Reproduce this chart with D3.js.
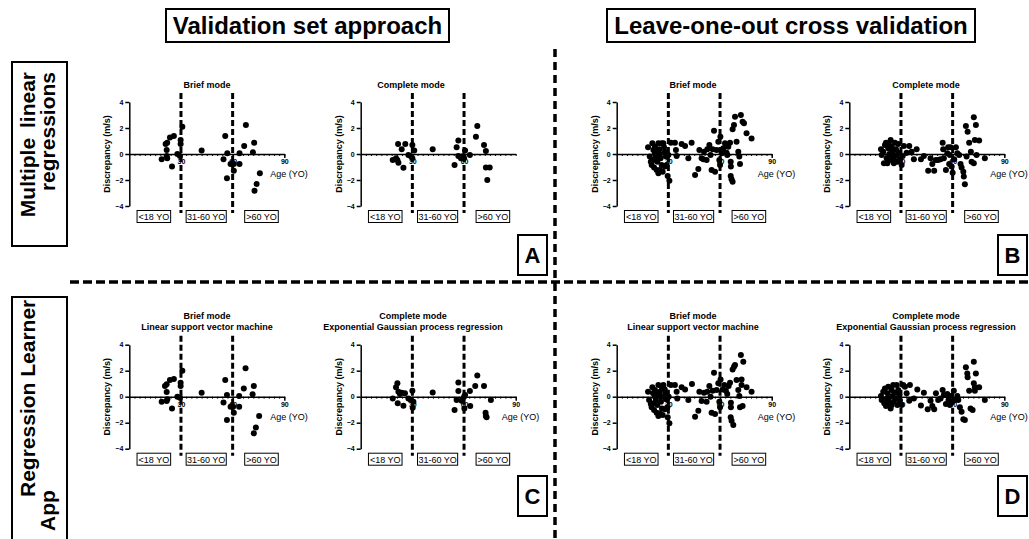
<!DOCTYPE html>
<html>
<head>
<meta charset="utf-8">
<script src="https://cdn.jsdelivr.net/npm/d3@7"></script>
<style>
  body { margin: 0; background: #fff; }
  svg { display: block; }
  text { font-family: "Liberation Sans", Arial, sans-serif; fill: #000; }
</style>
</head>
<body>
<div id="chart"></div>
<script>
// Values: [age (YO), discrepancy (m/s)]
const valMlrBrief = [[18.8,-0.41],[21.1,0.77],[22.0,0.87],[21.7,0.31],[22.0,-0.33],[21.7,-0.15],[23.6,1.26],[25.9,1.38],
  [24.8,-0.97],[27.9,0.0],[29.8,1.08],[29.8,0.77],[30.8,2.1],[29.4,-0.15],[42.0,0.26],[55.7,1.38],[54.7,-0.41],
  [56.9,0.05],[56.7,-1.87],[58.8,-0.77],[60.7,-0.77],[60.7,-1.28],[64.0,0.05],[64.0,-0.77],[66.7,0.62],[67.7,2.23],
  [71.8,0.13],[72.5,0.87],[73.9,-2.31],[72.7,-2.82],[75.8,-1.49]];
const valMlrComplete = [[18.6,-0.46],[20.5,-0.33],[21.3,-0.46],[21.9,-0.67],[21.7,0.77],[23.8,0.36],[24.8,-1.05],
  [25.9,0.77],[27.7,-0.08],[29.0,-0.15],[30.0,0.69],[30.0,-0.33],[31.1,0.26],[41.8,0.36],[54.5,-0.85],[55.7,0.51],
  [56.7,1.03],[56.7,-0.15],[58.2,-0.33],[59.6,-0.15],[60.6,0.26],[60.0,-0.33],[63.4,-0.08],[66.9,1.33],[67.7,2.15],
  [71.6,0.69],[72.7,0.23],[72.7,-1.03],[73.5,-2.0],[74.9,-1.03]];
const looMlrBrief = [[18.2,0.51],[19.2,-0.2],[20.7,0.82],[21.3,0.31],[22.2,0.05],[20.3,-0.85],[21.7,-1.03],[23.2,-1.23],
  [24.2,-1.49],[23.6,-0.59],[22.8,-0.2],[24.2,0.82],[24.8,0.36],[25.1,0.0],[25.5,-0.33],[26.1,-0.85],[26.7,-1.36],
  [22.2,0.56],[21.3,-0.46],[27.1,0.82],[27.5,0.51],[28.0,0.18],[28.6,-0.2],[28.0,-0.97],[29.0,-0.85],[30.0,-0.08],
  [29.6,-1.69],[30.6,-2.05],[25.1,-1.23],[19.8,-0.59],[26.1,0.82],[23.6,0.26],
  [31.5,0.87],[33.8,0.87],[34.4,0.31],[34.8,-0.15],[37.7,0.77],[39.7,0.62],[41.6,-0.33],[43.5,0.87],[45.5,-1.62],
  [47.4,-1.15],[48.0,0.31],[49.3,-0.33],[50.7,0.18],[52.2,-0.46],[53.8,0.69],[54.5,-0.08],[55.1,-1.23],[56.5,1.79],
  [57.1,-1.36],[55.7,0.36],[58.0,0.31],[59.0,0.95],[59.6,-0.46],[60.0,-0.85],[60.2,1.33],[52.6,0.36],[50.3,-0.41],
  [61.0,0.05],[61.9,0.44],[62.9,0.82],[63.8,0.1],[64.8,0.56],[65.8,0.87],[66.2,-0.59],[66.3,-0.97],[66.2,-1.69],
  [66.7,-1.95],[67.3,-2.13],[67.3,1.9],[68.1,2.23],[68.7,2.87],[69.6,0.95],[70.6,0.18],[71.6,-0.77],[72.1,3.0],
  [73.1,2.49],[73.9,2.36],[75.4,1.59],[78.3,1.2],[71.2,-0.2],[64.2,-0.08]];
const looMlrComplete = [[18.4,0.36],[18.8,-0.08],[19.7,0.18],[20.7,0.69],[21.3,0.87],[21.7,-0.33],[22.1,-0.72],
  [22.6,0.44],[23.2,0.0],[23.6,-0.46],[24.0,1.08],[24.6,0.56],[25.1,0.18],[25.5,-0.2],[25.9,-0.72],[26.5,0.87],
  [27.1,0.36],[27.5,-0.08],[27.9,-0.59],[28.4,0.77],[29.0,0.1],[29.4,-0.41],[30.4,-0.85],[31.0,-0.15],[31.7,0.62],
  [20.1,-0.72],[22.9,0.82],[24.6,-0.08],[26.1,-0.46],
  [33.3,0.1],[34.8,0.62],[36.2,0.18],[37.5,-0.41],[39.1,0.36],[41.6,-0.41],[43.3,-0.15],[45.8,-1.28],[47.2,-0.33],
  [48.2,-0.77],[49.3,-1.28],[50.3,-0.46],[51.6,-0.46],[53.0,-0.41],[54.2,0.87],[54.5,0.36],[54.9,-0.33],[56.1,-1.23],
  [56.9,0.05],[57.4,0.51],[58.0,-0.77],[58.4,-0.08],[58.8,0.51],[59.4,-0.97],[60.0,-1.44],[60.9,-0.41],[61.9,0.51],
  [62.7,0.05],[63.8,-0.08],[64.6,-0.77],[65.2,-1.03],[66.2,-1.36],[66.5,-1.74],[67.1,-2.33],[67.7,2.15],[68.7,1.72],
  [69.6,0.87],[70.6,0.18],[71.0,-0.59],[72.3,2.82],[72.3,-0.72],[72.9,1.08],[73.5,2.23],[73.9,-0.08],[75.4,1.03],
  [78.7,-0.33],[68.1,-0.2]];
const valAppBrief = [[18.8,-0.38],[20.7,0.82],[21.7,0.95],[21.7,0.36],[22.1,-0.2],[21.7,-0.33],[23.6,1.28],[25.9,1.36],
  [24.8,-0.9],[27.9,0.0],[29.8,1.08],[29.8,0.82],[30.8,2.0],[29.4,-0.08],[42.0,0.31],[55.7,1.28],[54.7,-0.44],
  [56.7,0.13],[56.7,-1.79],[58.8,-0.77],[60.3,-0.77],[60.7,-1.23],[63.8,0.05],[63.8,-0.77],[66.5,0.64],[67.5,2.18],
  [71.6,0.18],[72.3,0.82],[73.5,-2.36],[72.3,-2.82],[75.4,-1.49]];
const valAppComplete = [[18.6,-0.13],[20.5,0.72],[21.3,1.03],[21.9,0.38],[21.5,-0.51],[22.8,0.2],[23.8,0.31],
  [24.8,-0.69],[25.7,0.26],[27.7,-0.13],[29.0,-0.26],[30.0,0.46],[30.6,-0.38],[30.2,-0.85],[41.8,0.33],[54.5,-1.03],
  [55.7,-0.26],[56.7,1.1],[56.7,0.44],[58.6,-0.31],[60.0,0.0],[60.6,0.13],[60.2,-0.9],[63.4,0.44],[63.6,-0.72],
  [66.5,0.82],[67.7,1.64],[71.6,0.82],[72.5,-1.23],[73.1,-1.59],[72.7,-1.49],[75.6,-0.26]];
const looAppBrief = [[18.2,0.38],[18.8,-0.26],[20.7,0.72],[21.1,0.26],[22.2,0.0],[20.3,-0.82],[21.7,-1.03],[23.2,-1.23],
  [24.2,-1.49],[23.6,-0.64],[22.8,-0.26],[24.2,0.9],[25.1,0.38],[25.5,0.0],[25.7,-0.38],[26.3,-0.9],[26.7,-1.41],
  [22.2,0.51],[21.3,-0.51],[27.1,0.9],[27.9,0.56],[28.2,0.2],[28.6,-0.2],[28.0,-0.97],[29.4,-0.82],[30.2,0.0],
  [29.6,-1.59],[30.6,-2.05],[25.1,-1.28],[19.8,-0.56],[26.1,0.77],[23.6,0.2],
  [31.5,0.9],[33.8,0.9],[34.8,0.38],[35.2,-0.13],[37.7,0.72],[39.7,0.56],[41.6,-0.26],[43.7,0.97],[45.5,-1.54],
  [47.4,-1.08],[48.0,0.38],[49.3,-0.33],[50.7,0.31],[52.2,-0.38],[53.8,0.82],[54.5,0.0],[55.1,-1.23],[56.5,1.85],
  [57.1,-1.33],[55.7,0.46],[58.0,0.51],[59.0,1.03],[59.6,-0.38],[60.0,-0.82],[60.3,1.33],[52.6,0.38],
  [61.5,0.56],[62.5,0.9],[63.4,0.46],[64.2,0.2],[65.0,0.82],[65.8,1.08],[66.3,-0.46],[66.3,-0.82],[66.2,-1.59],
  [66.7,-1.85],[67.7,-2.18],[67.3,2.1],[68.1,2.31],[68.7,2.44],[69.6,1.28],[70.6,0.51],[71.6,-0.82],[72.1,3.21],
  [73.5,2.69],[72.5,1.33],[72.5,0.9],[73.1,-0.72],[75.4,0.72],[78.3,0.38],[71.2,0.05]];
const looAppComplete = [[18.4,0.05],[18.8,-0.26],[19.7,0.38],[20.7,0.64],[21.3,-0.72],[21.7,-0.13],[22.2,0.26],
  [22.6,0.77],[23.2,-0.46],[24.0,-0.9],[24.6,0.51],[25.1,0.05],[25.5,0.9],[25.9,-0.38],[26.5,0.31],[27.1,-0.13],
  [27.5,0.9],[27.9,-0.64],[28.4,0.51],[29.0,0.13],[29.4,-0.31],[30.4,-0.64],[31.3,0.9],[32.3,0.77],[20.3,-0.51],
  [22.9,-0.13],[24.6,-0.64],
  [33.3,0.26],[34.8,-0.31],[35.2,0.9],[37.5,-0.13],[39.5,0.56],[41.6,-0.67],[43.3,0.31],[45.5,-0.97],[47.2,-0.31],
  [48.2,-0.72],[49.3,-0.97],[50.3,0.26],[51.6,-0.26],[53.0,-0.13],[54.2,0.51],[54.9,0.13],[56.1,-0.56],[56.9,0.2],
  [57.6,-0.26],[58.4,-0.64],[59.0,0.05],[59.8,-0.38],[60.7,0.46],[61.5,-0.26],
  [62.7,0.05],[63.3,-0.26],[64.2,-0.82],[65.2,-1.15],[66.2,-1.74],[67.1,-1.79],[67.7,2.26],[68.5,1.79],[68.7,1.49],
  [69.6,0.46],[70.4,-0.9],[71.6,-1.03],[72.3,2.69],[72.3,1.03],[72.9,0.72],[72.9,0.46],[73.5,1.79],[75.4,0.72],
  [78.7,-0.26]];

const yTicks = [-4, -2, 0, 2, 4];
const xMajorTicks = [30, 60, 90];
const ageGroups = [
  {label: "<18 YO", from: 4.5, to: 24},
  {label: "31-60 YO", from: 33, to: 56.3},
  {label: ">60 YO", from: 67, to: 86.5}
];
const cutoffs = [30, 60];

const width = 1029, height = 539;
const svg = d3.select("#chart").append("svg")
    .attr("width", width)
    .attr("height", height);

// layout of the eight small graphs
const panels = [
  {data: valMlrBrief,    x0: 129.3, y0: 154,   tx: 207, ageLabel: true,  titles: ["Brief mode"]},
  {data: valMlrComplete, x0: 360.7, y0: 154,   tx: 411, ageLabel: false, titles: ["Complete mode"]},
  {data: looMlrBrief,    x0: 616.7, y0: 154,   tx: 693, ageLabel: true,  titles: ["Brief mode"]},
  {data: looMlrComplete, x0: 849.3, y0: 154,   tx: 926, ageLabel: true,  titles: ["Complete mode"]},
  {data: valAppBrief,    x0: 129.3, y0: 396.7, tx: 207, ageLabel: true,  titles: ["Brief mode", "Linear support vector machine"]},
  {data: valAppComplete, x0: 360.7, y0: 396.7, tx: 413, ageLabel: true,  titles: ["Complete mode", "Exponential Gaussian process regression"]},
  {data: looAppBrief,    x0: 616.7, y0: 396.7, tx: 693, ageLabel: true,  titles: ["Brief mode", "Linear support vector machine"]},
  {data: looAppComplete, x0: 849.3, y0: 396.7, tx: 926, ageLabel: true,  titles: ["Complete mode", "Exponential Gaussian process regression"]}
];

panels.forEach(p => {
  const x = d3.scaleLinear().domain([0, 90]).range([p.x0, p.x0 + 155]);
  const y = d3.scaleLinear().domain([-4, 4]).range([p.y0 + 52, p.y0 - 52]);
  const g = svg.append("g");

  // titles
  p.titles.forEach((t, i) => {
    g.append("text")
      .attr("x", p.tx)
      .attr("y", p.y0 - 66.5 - (p.titles.length - 1 - i) * 11)
      .attr("text-anchor", "middle")
      .style("font-size", "9px")
      .style("font-weight", "bold")
      .text(t);
  });

  // y axis
  const yAxis = g.append("g")
    .attr("transform", `translate(${p.x0},0)`)
    .call(d3.axisLeft(y).tickValues(yTicks).tickSize(4).tickSizeOuter(0).tickPadding(2));
  yAxis.select(".domain").attr("stroke-width", 1.5);
  yAxis.selectAll(".tick line").attr("stroke-width", 1.5);
  yAxis.selectAll("text").style("font-size", "7px").style("font-weight", "bold").style("fill", "#000")
    .style("font-family", "'Liberation Sans', Arial, sans-serif");

  // x axis, minor then major ticks
  const xMinor = g.append("g")
    .attr("transform", `translate(0,${p.y0})`)
    .call(d3.axisBottom(x).tickValues(d3.range(0, 91, 3)).tickSize(2).tickSizeOuter(0).tickFormat(""));
  xMinor.select(".domain").attr("stroke-width", 1.5);
  xMinor.selectAll(".tick line").attr("stroke-width", 1);
  const xMajor = g.append("g")
    .attr("transform", `translate(0,${p.y0})`)
    .call(d3.axisBottom(x).tickValues(p.ageLabel ? xMajorTicks : [30, 60]).tickSize(4).tickPadding(1));
  xMajor.select(".domain").remove();
  xMajor.selectAll(".tick line").attr("stroke-width", 1.5);
  xMajor.selectAll("text").style("font-size", "7px").style("font-weight", "bold").style("fill", "#000")
    .style("font-family", "'Liberation Sans', Arial, sans-serif");

  // axis titles
  g.append("text")
    .attr("transform", `translate(${p.x0 - 19},${p.y0}) rotate(-90)`)
    .attr("text-anchor", "middle")
    .style("font-size", "9px")
    .style("font-weight", "bold")
    .text("Discrepancy (m/s)");
  if (p.ageLabel) {
    g.append("text")
      .attr("x", x(90) - 14)
      .attr("y", p.y0 + 23)
      .style("font-size", "9px")
      .text("Age (YO)");
  }

  // points
  g.selectAll("circle")
    .data(p.data)
    .enter().append("circle")
    .attr("cx", d => x(d[0]))
    .attr("cy", d => y(d[1]))
    .attr("r", 3)
    .attr("fill", "#000");

  // age cut-offs
  g.selectAll(".cut")
    .data(cutoffs)
    .enter().append("line")
    .attr("x1", d => x(d)).attr("x2", d => x(d))
    .attr("y1", p.y0 - 61).attr("y2", p.y0 + 59)
    .attr("stroke", "#000")
    .attr("stroke-width", 3)
    .attr("stroke-dasharray", "6,3");

  // age group boxes
  const grp = g.selectAll(".grp")
    .data(ageGroups)
    .enter().append("g");
  grp.append("rect")
    .attr("x", d => x(d.from))
    .attr("y", p.y0 + 56.5)
    .attr("width", d => x(d.to) - x(d.from))
    .attr("height", 12)
    .attr("fill", "#fff")
    .attr("stroke", "#000")
    .attr("stroke-width", 1);
  grp.append("text")
    .attr("x", d => (x(d.from) + x(d.to)) / 2)
    .attr("y", p.y0 + 66)
    .attr("text-anchor", "middle")
    .style("font-size", "9px")
    .text(d => d.label);
});

// separators between the four blocks
svg.append("line")
  .attr("x1", 555).attr("x2", 555).attr("y1", 49).attr("y2", 539)
  .attr("stroke", "#000").attr("stroke-width", 3.5).attr("stroke-dasharray", "8,5");
svg.append("line")
  .attr("x1", 70).attr("x2", 1029).attr("y1", 282).attr("y2", 282)
  .attr("stroke", "#000").attr("stroke-width", 3.5).attr("stroke-dasharray", "9,4");

// column headers
const headers = [
  {text: "Validation set approach", x: 166, w: 283},
  {text: "Leave-one-out cross validation", x: 607, w: 368}
];
headers.forEach(h => {
  svg.append("rect").attr("x", h.x).attr("y", 9).attr("width", h.w).attr("height", 33)
    .attr("fill", "#fff").attr("stroke", "#000").attr("stroke-width", 2);
  svg.append("text").attr("x", h.x + h.w / 2).attr("y", 34).attr("text-anchor", "middle")
    .style("font-size", "24px").style("font-weight", "bold").text(h.text);
});

// row headers
svg.append("rect").attr("x", 12).attr("y", 62).attr("width", 55).attr("height", 184)
  .attr("fill", "#fff").attr("stroke", "#000").attr("stroke-width", 2);
svg.append("text").attr("transform", "translate(35,72) rotate(-90)").attr("text-anchor", "end")
  .style("font-size", "21px").style("font-weight", "bold").style("word-spacing", "4px").text("Multiple linear");
svg.append("text").attr("transform", "translate(55,72) rotate(-90)").attr("text-anchor", "end")
  .style("font-size", "21px").style("font-weight", "bold").text("regressions");

svg.append("rect").attr("x", 12).attr("y", 297).attr("width", 55).attr("height", 260)
  .attr("fill", "#fff").attr("stroke", "#000").attr("stroke-width", 2);
svg.append("text").attr("transform", "translate(35,497) rotate(-90)")
  .style("font-size", "21px").style("font-weight", "bold").text("Regression Learner");
svg.append("text").attr("transform", "translate(55,531) rotate(-90)")
  .style("font-size", "21px").style("font-weight", "bold").text("App");

// panel letters
const letters = [
  {t: "A", x: 518, y: 235}, {t: "B", x: 998, y: 235},
  {t: "C", x: 518, y: 476}, {t: "D", x: 998, y: 476}
];
letters.forEach(l => {
  svg.append("rect").attr("x", l.x).attr("y", l.y).attr("width", 29).attr("height", 40)
    .attr("fill", "#fff").attr("stroke", "#000").attr("stroke-width", 2);
  svg.append("text").attr("x", l.x + 14.5).attr("y", l.y + 28).attr("text-anchor", "middle")
    .style("font-size", "22px").style("font-weight", "bold").text(l.t);
});
</script>
</body>
</html>
